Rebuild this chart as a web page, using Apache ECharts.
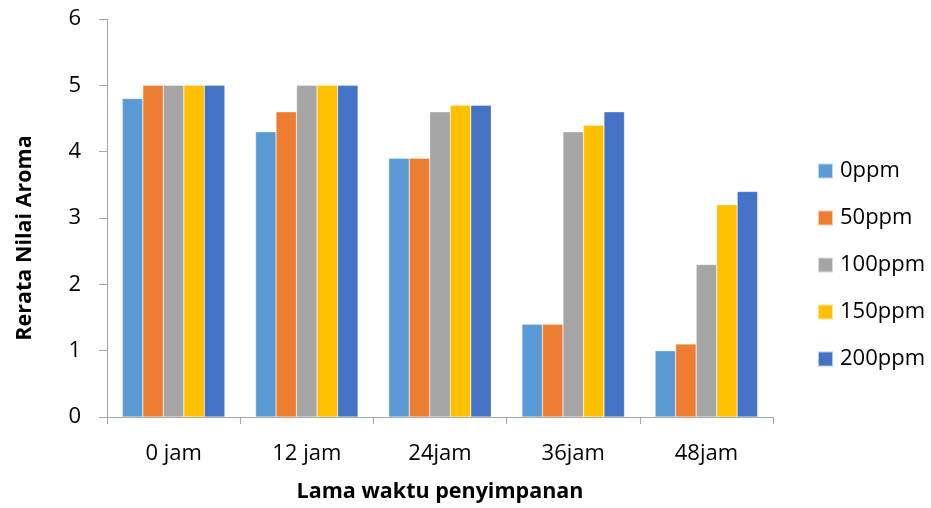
<!DOCTYPE html>
<html>
<head>
<meta charset="utf-8">
<script src="https://cdn.jsdelivr.net/npm/echarts@6/dist/echarts.min.js"></script>
<style>
  html, body { margin: 0; padding: 0; background: #fff; }
  #chart { width: 931px; height: 508px; }
</style>
</head>
<body>
<div id="chart"></div>
<script>
// Storage time categories
const categories = ['0 jam', '12 jam', '24jam', '36jam', '48jam'];

// Mean aroma score per concentration
const seriesNames = ['0ppm', '50ppm', '100ppm', '150ppm', '200ppm'];
const ppm0   = [4.8, 4.3, 3.9, 1.4, 1.0];
const ppm50  = [5.0, 4.6, 3.9, 1.4, 1.1];
const ppm100 = [5.0, 5.0, 4.6, 4.3, 2.3];
const ppm150 = [5.0, 5.0, 4.7, 4.4, 3.2];
const ppm200 = [5.0, 5.0, 4.7, 4.6, 3.4];
const seriesValues = [ppm0, ppm50, ppm100, ppm150, ppm200];
const seriesColors = ['#5B9BD5', '#ED7D31', '#A5A5A5', '#FFC000', '#4472C4'];

const FONT = '"Open Sans", "Liberation Sans", sans-serif';
const AXIS_GRAY = '#A6A6A6';

const chart = echarts.init(document.getElementById('chart'), null, { renderer: 'canvas' });

chart.setOption({
  animation: false,
  textStyle: { fontFamily: FONT },
  grid: { left: 107, right: 158, top: 19, bottom: 90, containLabel: false },
  legend: {
    orient: 'vertical',
    left: 817,
    top: 160,
    padding: 0,
    itemWidth: 15,
    itemHeight: 15,
    itemGap: 25,
    icon: 'rect',
    data: seriesNames,
    textStyle: { fontFamily: FONT, fontSize: 22, color: '#000', lineHeight: 20, padding: [0, 0, 0, 2] }
  },
  xAxis: {
    type: 'category',
    data: categories,
    name: 'Lama waktu penyimpanan',
    nameLocation: 'middle',
    nameGap: 64,
    nameTextStyle: { fontFamily: FONT, fontSize: 21.5, fontWeight: 'bold', color: '#000' },
    axisLine: { show: true, lineStyle: { color: AXIS_GRAY, width: 1 } },
    axisTick: { show: true, alignWithLabel: false, length: 7, lineStyle: { color: AXIS_GRAY } },
    axisLabel: { fontFamily: FONT, fontSize: 22, color: '#000', margin: 26 },
    splitLine: { show: false }
  },
  yAxis: {
    type: 'value',
    min: 0,
    max: 6,
    interval: 1,
    name: 'Rerata Nilai Aroma',
    nameLocation: 'middle',
    nameGap: 71,
    nameRotate: 90,
    nameTextStyle: {
      fontFamily: FONT, fontSize: 21.5, fontWeight: 'bold', color: '#000',
      padding: [0, 40, 0, 0]
    },
    axisLine: { show: true, lineStyle: { color: AXIS_GRAY, width: 1 } },
    axisTick: { show: true, length: 8, lineStyle: { color: AXIS_GRAY } },
    axisLabel: { fontFamily: FONT, fontSize: 22, color: '#000', margin: 26 },
    splitLine: { show: false }
  },
  series: seriesNames.map((name, i) => ({
    name: name,
    type: 'bar',
    data: seriesValues[i],
    barGap: '0%',
    barCategoryGap: '23%',
    itemStyle: { color: seriesColors[i], borderColor: 'rgba(255,255,255,0.6)', borderWidth: 0.5 }
  }))
});
</script>
</body>
</html>
